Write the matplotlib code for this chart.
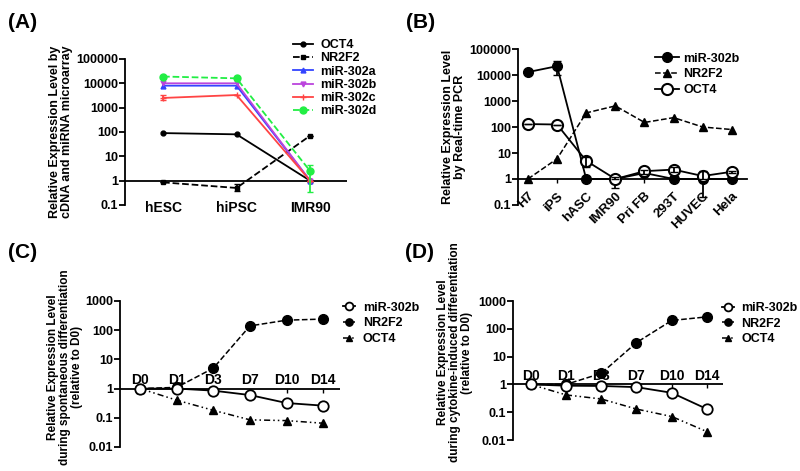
import matplotlib
matplotlib.use("Agg")
import matplotlib.pyplot as plt
import numpy as np

plt.rcParams['font.family'] = ['Liberation Sans', 'DejaVu Sans']
plt.rcParams['font.weight'] = 'bold'

# ---------------- Panel A data ----------------
a_cats = ["hESC", "hiPSC", "IMR90"]
a_oct4 = [90, 80, 1]
a_nr2f2 = [0.85, 0.5, 70]
a_302a = [8000, 8000, 1]
a_302b = [10000, 10000, 1]
a_302c = [2500, 3300, 1]
a_302d = [19000, 16000, 2.5]
a_302c_lo = [2000, 3300, 1]
a_302c_hi = [3200, 3300, 1]
a_nr2f2_lo = [0.85, 0.38, 70]
a_nr2f2_hi = [0.85, 0.72, 70]
a_302d_lo = [19000, 16000, 0.35]
a_302d_hi = [19000, 16000, 4.5]

# ---------------- Panel B data ----------------
b_cats = ["H7", "iPS", "hASC", "IMR90", "Pri FB", "293T", "HUVEC", "Hela"]
b_302b = [13000, 22000, 1, 1, 1.7, 1, 1, 1]
b_302b_lo = [13000, 10000, 1, 0.45, 1.3, 1, 0.2, 1]
b_302b_hi = [13000, 35000, 1, 1.3, 2.2, 1, 1, 1]
b_nr2f2 = [1, 6, 350, 650, 150, 230, 100, 80]
b_oct4 = [130, 125, 5, 1, 2, 2.3, 1.3, 1.9]
b_oct4_lo = [130, 125, 3, 1, 1.6, 1.9, 1.0, 1.7]
b_oct4_hi = [130, 125, 7, 1.2, 2.3, 2.9, 2.1, 2.1]

# ---------------- Panel C / D data ----------------
days = ["D0", "D1", "D3", "D7", "D10", "D14"]
c_302b = [1, 1, 0.85, 0.6, 0.32, 0.26]
c_nr2f2 = [1, 1.1, 5, 140, 220, 240]
c_oct4 = [1, 0.4, 0.18, 0.085, 0.08, 0.065]
d_302b = [1, 0.9, 0.88, 0.8, 0.5, 0.13]
d_nr2f2 = [1, 1, 2.5, 32, 200, 270]
d_oct4 = [1, 0.42, 0.3, 0.13, 0.07, 0.02]

fig = plt.figure(figsize=(8, 4.71), dpi=100)

TICKFS = 9
LW = 1.3


def style_axis(ax, ylo, yhi, xlim, hline=True):
    ax.set_yscale('log')
    ax.set_ylim(ylo, yhi)
    ax.set_xlim(*xlim)
    for s in ['top', 'right', 'bottom']:
        ax.spines[s].set_visible(False)
    ax.spines['left'].set_linewidth(LW)
    ax.yaxis.set_major_formatter(matplotlib.ticker.FuncFormatter(lambda v, p: ('%g' % v)))
    ax.yaxis.set_minor_locator(matplotlib.ticker.NullLocator())
    ax.tick_params(axis='y', which='major', length=4, width=LW, labelsize=TICKFS, pad=1)
    if hline:
        ax.axhline(1, color='black', lw=LW, zorder=1)
    ax.patch.set_alpha(0)


def lo_hi(vals, lo, hi):
    v = np.array(vals, float)
    return np.vstack([v - np.array(lo, float), np.array(hi, float) - v])


# ---------------- Panel A ----------------
axA = fig.add_axes([0.156, 0.5648, 0.2775, 0.31])
style_axis(axA, 0.1, 100000, (-0.52, 2.5))
xa = np.arange(len(a_cats))
axA.plot(xa, a_oct4, '-', color='black', marker='o', ms=3.5, lw=1.3, label='OCT4')
axA.plot(xa, a_nr2f2, '--', color='black', marker='s', ms=3.5, lw=1.3, label='NR2F2')
axA.errorbar(xa, a_nr2f2, yerr=lo_hi(a_nr2f2, a_nr2f2_lo, a_nr2f2_hi), fmt='none',
             ecolor='black', lw=1.3, capsize=2.5)
axA.plot(xa, a_302a, '-', color='#3344ff', marker='^', ms=3.5, lw=1.3, label='miR-302a')
axA.plot(xa, a_302b, '-', color='#bb44dd', marker='v', ms=3.5, lw=1.3, label='miR-302b')
axA.plot(xa, a_302c, '-', color='#ff4444', marker='+', ms=4.5, lw=1.3, label='miR-302c')
axA.errorbar(xa, a_302c, yerr=lo_hi(a_302c, a_302c_lo, a_302c_hi), fmt='none',
             ecolor='#ff4444', lw=1.3, capsize=2.5)
axA.plot(xa, a_302d, '--', color='#22ee44', marker='o', ms=5, lw=1.3, label='miR-302d')
axA.errorbar(xa, a_302d, yerr=lo_hi(a_302d, a_302d_lo, a_302d_hi), fmt='none',
             ecolor='#22ee44', lw=1.3, capsize=2.5)
axA.set_yticks([0.1, 1, 10, 100, 1000, 10000, 100000])
axA.set_xticks(xa)
axA.set_xticklabels(a_cats, fontsize=10, fontweight='bold')
axA.tick_params(axis='x', length=0, pad=-3)
axA.set_ylabel("Relative Expression Level by\ncDNA and miRNA microarray", fontsize=9,
               fontweight='bold', labelpad=2, linespacing=1.0)
axA.legend(loc='upper left', bbox_to_anchor=(0.734, 1.17), frameon=False, fontsize=9,
           handlelength=1.6, labelspacing=0.1, borderaxespad=0, handletextpad=0.6)
fig.text(0.01, 0.972, "(A)", fontsize=15, fontweight='bold', va='top')

# ---------------- Panel B ----------------
axB = fig.add_axes([0.6475, 0.5648, 0.286, 0.331])
style_axis(axB, 0.1, 100000, (-0.34, 7.51), hline=False)
axB.spines['bottom'].set_visible(True)
axB.spines['bottom'].set_position(('data', 1))
axB.spines['bottom'].set_linewidth(LW)
xb = np.arange(len(b_cats))
axB.plot(xb, b_302b, '-', color='black', marker='o', ms=7, lw=1.3, label='miR-302b', zorder=3)
axB.errorbar(xb, b_302b, yerr=lo_hi(b_302b, b_302b_lo, b_302b_hi), fmt='none',
             ecolor='black', lw=1.3, capsize=3, zorder=3)
axB.plot(xb, b_nr2f2, '--', color='black', marker='^', ms=6, lw=1.1, label='NR2F2')
axB.plot(xb, b_oct4, '-', color='black', marker='o', mfc='white', mew=1.5, ms=8, lw=1.3,
         label='OCT4', zorder=4)
axB.errorbar(xb, b_oct4, yerr=lo_hi(b_oct4, b_oct4_lo, b_oct4_hi), fmt='none',
             ecolor='black', lw=1.3, capsize=3, zorder=4)
axB.set_yticks([0.1, 1, 10, 100, 1000, 10000, 100000])
axB.set_xticks(xb)
axB.set_xticklabels(b_cats, fontsize=9.5, fontweight='bold', rotation=45, ha='right',
                    rotation_mode='anchor')
axB.tick_params(axis='x', direction='out', length=3, width=1, pad=5)
axB.set_ylabel("Relative Expression Level\nby Real-time PCR", fontsize=9,
               fontweight='bold', labelpad=2, linespacing=1.0)
axB.legend(loc='upper left', bbox_to_anchor=(0.576, 1.01), frameon=False, fontsize=9,
           handlelength=1.9, labelspacing=0.3, borderaxespad=0, handletextpad=0.4)
fig.text(0.508, 0.972, "(B)", fontsize=15, fontweight='bold', va='top')

dashdot = (0, (4, 2, 1, 2, 1, 2))


def diff_panel(ax, m302b, nr2f2, oct4, ylabel, xlim, legx, lab_x, lab_y, labfs):
    style_axis(ax, 0.01, 1000, xlim)
    x = np.arange(len(days))
    ax.plot(x, m302b, '-', color='black', marker='o', mfc='white', mew=1.3, ms=7.5, lw=1.3,
            label='miR-302b', zorder=4)
    ax.plot(x, nr2f2, '--', color='black', marker='o', ms=7, lw=1.1, label='NR2F2', zorder=3)
    ax.plot(x, oct4, ls=dashdot, color='black', marker='^', ms=6, lw=1.1, label='OCT4', zorder=3)
    ax.set_yticks([0.01, 0.1, 1, 10, 100, 1000])
    ax.spines['top'].set_position(('data', 1))
    ax.spines['top'].set_visible(False)
    ax.xaxis.set_ticks_position('top')
    ax.set_xticks(x)
    ax.set_xticklabels(days, fontsize=10, fontweight='bold')
    ax.tick_params(axis='x', direction='in', length=3, width=1, pad=1)
    ax.set_ylabel(ylabel, fontsize=labfs, fontweight='bold', linespacing=1.0)
    ax.yaxis.set_label_coords(lab_x, lab_y)
    ax.legend(loc='upper left', bbox_to_anchor=(legx, 1.03), frameon=False, fontsize=9,
              handlelength=1.0, labelspacing=0.3, borderaxespad=0, handletextpad=0.6,
              markerscale=0.75)


axC = fig.add_axes([0.15, 0.051, 0.275, 0.31])
diff_panel(axC, c_302b, c_nr2f2, c_oct4,
           "Relative Expression Level\nduring spontaneous differentiation\n(relative to D0)",
           (-0.55, 5.46), 0.99, -0.17, 0.545, 8.5)
fig.text(0.01, 0.485, "(C)", fontsize=15, fontweight='bold', va='top')

axD = fig.add_axes([0.641, 0.0658, 0.2625, 0.295])
diff_panel(axD, d_302b, d_nr2f2, d_oct4,
           "Relative Expression Level\nduring cytokine-induced differentiation\n(relative to D0)",
           (-0.51, 5.45), 0.97, -0.19, 0.63, 8.5)
fig.text(0.506, 0.485, "(D)", fontsize=15, fontweight='bold', va='top')

fig.savefig("out.png", dpi=100)
